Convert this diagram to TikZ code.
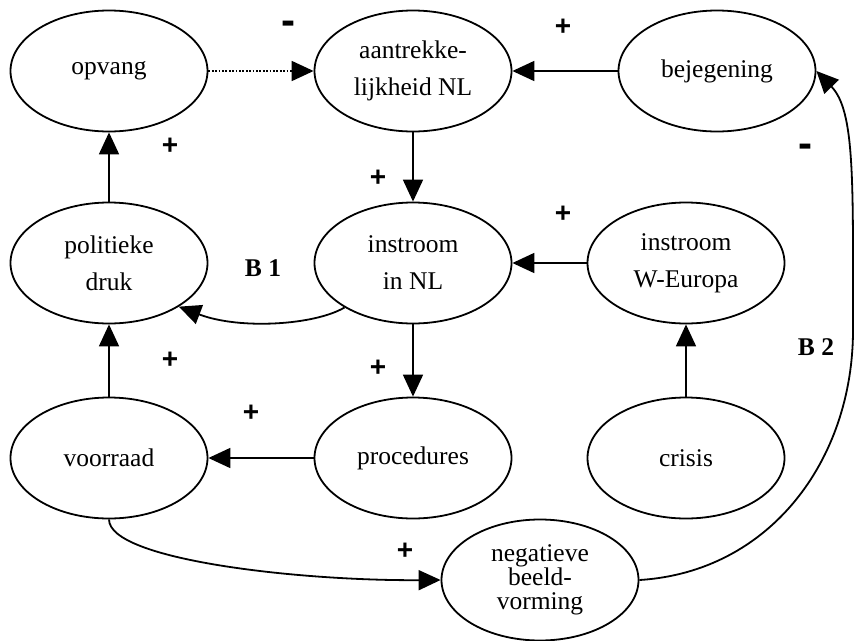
\documentclass[tikz,border=0pt]{standalone}
\usepackage{fontspec}
\setmainfont{Liberation Serif}
\newfontfamily\signfont{Liberation Sans}
\usetikzlibrary{shapes.geometric,arrows.meta}
\begin{document}
\begin{tikzpicture}[x=1pt,y=-1pt,
  factor/.style={ellipse,draw,line width=1.8pt,minimum width=197pt,minimum height=121pt,
    inner sep=0pt,align=center,font=\fontsize{25.5}{37}\selectfont},
  link/.style={line width=1.8pt,-{Triangle[length=22pt,width=20pt]}},
  weak/.style={link,line width=1.8pt,dash pattern=on 1.8pt off 1.6pt},
  plus/.style={inner sep=0pt,font=\signfont\bfseries\fontsize{28}{28}\selectfont},
  minus/.style={inner sep=0pt,font=\signfont\bfseries\fontsize{42}{42}\selectfont},
  loopname/.style={inner sep=0pt,font=\bfseries\fontsize{25.5}{30}\selectfont}]
\useasboundingbox (0,0) rectangle (854,640);

% factors
\node[factor] (opvang) at (109,71) {opvang};
\node[factor] (aantr) at (413,71) {aantrekke-\\lijkheid NL};
\node[factor] (bejeg) at (717,71) {bejegening};
\node[factor] (polit) at (109,263) {politieke\\druk};
\node[factor] (instNL) at (413,263) {instroom\\in NL};
\node[factor] (instWE) at (686,263) {instroom\\W-Europa};
\node[factor] (voorr) at (109,458) {voorraad};
\node[factor] (proced) at (413,458) {procedures};
\node[factor] (crisis) at (686,458) {crisis};
\node[factor,font=\fontsize{25.5}{24}\selectfont] (negbeeld) at (540,580) {negatieve\\beeld-\\vorming};

\coordinate (b2turn) at (853,330);

% influences
\draw[weak] (opvang) -- (aantr);
\draw[link] (bejeg) -- (aantr);
\draw[link] (aantr) -- (instNL);
\draw[link] (polit) -- (opvang);
\draw[link] (instWE) -- (instNL);
\draw[link] (instNL) -- (proced);
\draw[link] (voorr) -- (polit);
\draw[link] (proced) -- (voorr);
\draw[link] (crisis) -- (instWE);
\draw[link] (instNL.-147) .. controls (315,325) and (240,330) .. (polit.-32);
\draw[link] (voorr.south) .. controls (109,560) and (300,581) .. (negbeeld.west);
\draw[link] (negbeeld.east) .. controls (770,572) and (853,460) .. (b2turn)
  .. controls (853,180) and (855,111) .. (bejeg.east);

% polarities
\node[minus] (m1) at (288,28) {-};
\node[minus] (m2) at (805,151) {-};
\node[plus] (p1) at (563,27) {+};
\node[plus] (p2) at (378,178) {+};
\node[plus] (p3) at (170,146) {+};
\node[plus] (p4) at (563,214) {+};
\node[plus] (p5) at (378,368) {+};
\node[plus] (p6) at (170,360) {+};
\node[plus] (p7) at (251,413) {+};
\node[plus] (p8) at (405,551) {+};

% loop names
\node[loopname] (loopB1) at (263,268) {B 1};
\node[loopname] (loopB2) at (816,347) {B 2};
\end{tikzpicture}
\end{document}
